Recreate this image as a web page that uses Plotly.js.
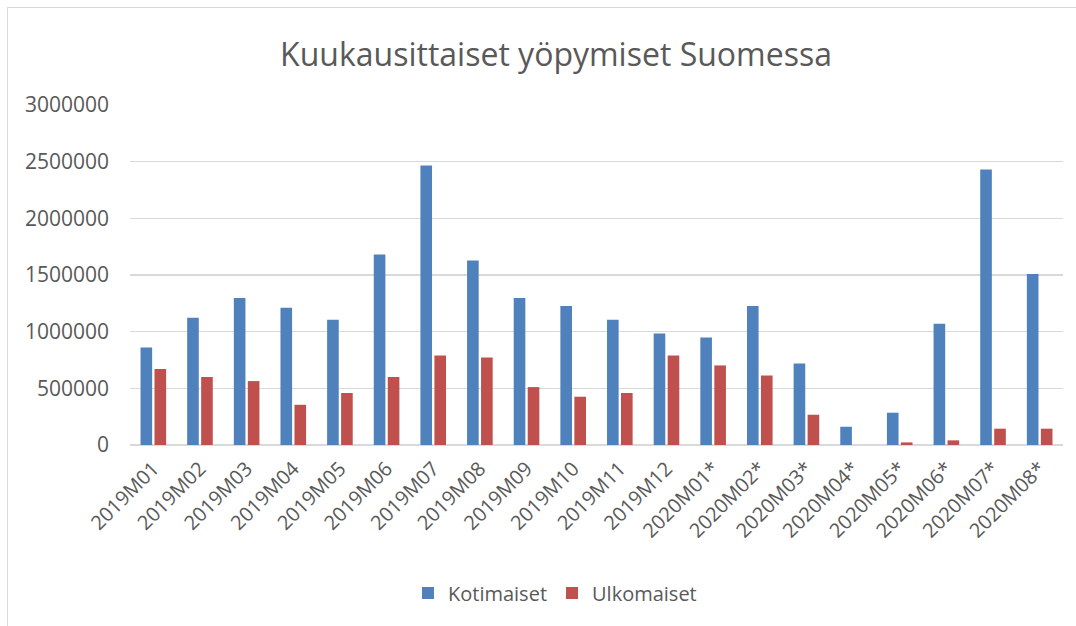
<!DOCTYPE html>
<html>
<head>
<meta charset="utf-8">
<script src="https://cdn.plot.ly/plotly-3.0.1.min.js"></script>
<style>
  html, body { margin: 0; padding: 0; background: #fff; }
  #wrap { position: relative; width: 1076px; height: 626px; overflow: hidden; }
  #chart { position: absolute; left: 0; top: 0; width: 1076px; height: 626px; }
  #frame { position: absolute; left: 7px; top: 7px; width: 1200px; height: 700px; border: 1px solid #d9d9d9; pointer-events: none; }
</style>
</head>
<body>
<div id="wrap">
  <div id="chart"></div>
  <div id="frame"></div>
</div>
<script>
const months = ["2019M01","2019M02","2019M03","2019M04","2019M05","2019M06","2019M07","2019M08","2019M09","2019M10","2019M11","2019M12","2020M01*","2020M02*","2020M03*","2020M04*","2020M05*","2020M06*","2020M07*","2020M08*"];
const kotimaiset = [861000,1123000,1296000,1211000,1105000,1681000,2466000,1628000,1296000,1226000,1105000,984000,949000,1226000,720000,161000,285000,1070000,2430000,1508000];
const ulkomaiset = [670000,600000,564000,355000,459000,600000,790000,773000,511000,426000,459000,790000,702000,614000,267000,0,23000,41000,144000,144000];
const yTicks = [0,500000,1000000,1500000,2000000,2500000,3000000];

const font = "'Open Sans', sans-serif";
const grey = "#595959";

const data = [
  { type: "bar", name: "Kotimaiset", x: months, y: kotimaiset, marker: { color: "#4F81BD" } },
  { type: "bar", name: "Ulkomaiset", x: months, y: ulkomaiset, marker: { color: "#C0504D" } }
];

const layout = {
  width: 1076, height: 626,
  margin: { l: 130, r: 13, t: 105, b: 181 },
  paper_bgcolor: "#fff", plot_bgcolor: "#fff",
  font: { family: font, color: grey, size: 20 },
  title: { text: "Kuukausittaiset yöpymiset Suomessa", font: { family: font, size: 32, color: grey },
           x: 0.4566, xref: "paper", xanchor: "center", y: 0.912, yref: "container", yanchor: "middle" },
  bargap: 0.4, bargroupgap: 0.17,
  barmode: "group",
  xaxis: { type: "category", tickangle: -45, tickfont: { family: font, size: 20, color: grey },
           showgrid: false, showline: false, ticks: "", ticklabelstandoff: 7 },
  yaxis: { range: [0, 3000000], tickvals: yTicks, ticktext: yTicks.map(String),
           tickfont: { family: font, size: 21, color: grey }, gridcolor: "#d9d9d9", gridwidth: 1.5,
           zeroline: true, zerolinecolor: "#d9d9d9", zerolinewidth: 1.5, showline: false, ticks: "",
           ticklabelstandoff: 20 },
  legend: { orientation: "h", x: 0.4555, xanchor: "center", y: -0.435, yanchor: "middle",
            font: { family: font, size: 20, color: grey }, itemwidth: 30 },
  showlegend: true
};

Plotly.newPlot("chart", data, layout, { displayModeBar: false, staticPlot: true });
</script>
</body>
</html>
